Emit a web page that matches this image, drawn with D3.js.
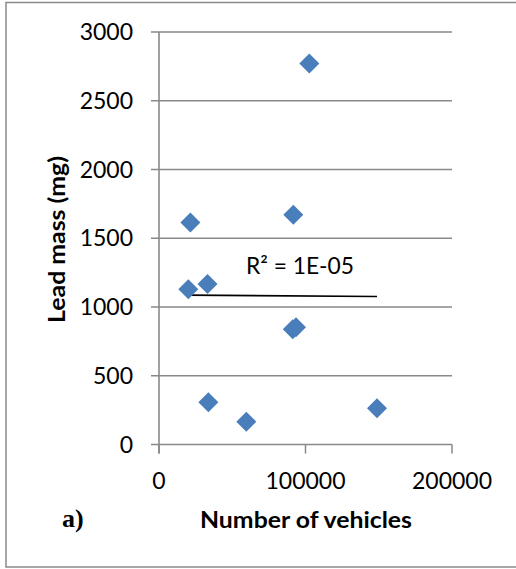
<!DOCTYPE html>
<html>
<head>
<meta charset="utf-8">
<script src="https://cdn.jsdelivr.net/npm/d3@7"></script>
<style>
html,body{margin:0;padding:0;background:#fff;}
svg{display:block;}
</style>
</head>
<body>
<svg id="chart" width="516" height="569"></svg>
<script>
// Data
const vehicles  = [102600, 21400, 91700, 20000, 33100, 91300, 93500, 33700, 59600, 148800];
const leadMass  = [2770,   1615,  1670,  1128,  1167,  838,   852,   308,   166,   264];
const trendX    = [20000, 148800];
const trendY    = [1086, 1076];
const xTicks    = [0, 100000, 200000];
const yTicks    = [0, 500, 1000, 1500, 2000, 2500, 3000];
const xTitle    = "Number of vehicles";
const yTitle    = "Lead mass (mg)";
const r2Label   = "R\u00B2 = 1E-05";
const panelLabel = "a)";

const svg = d3.select("#chart");
const gridColor = "#898989";
const markColor = "#4a7ebb";
const sans = "Lato, 'Open Sans', sans-serif";

// frame
svg.append("rect")
  .attr("x", 6).attr("y", 2.5).attr("width", 530).attr("height", 564.5)
  .attr("fill", "none").attr("stroke", "#8a8a8a").attr("stroke-width", 1.5);

const x = d3.scaleLinear().domain([0, 200000]).range([159, 452]);
const y = d3.scaleLinear().domain([0, 3000]).range([444.5, 31.9]);

// horizontal gridlines (with left tick stubs)
svg.append("g").selectAll("line").data(yTicks).join("line")
  .attr("x1", 151).attr("x2", x(200000))
  .attr("y1", d => y(d)).attr("y2", d => y(d))
  .attr("stroke", gridColor).attr("stroke-width", 1.5);

// y axis line
svg.append("line")
  .attr("x1", x(0)).attr("x2", x(0))
  .attr("y1", y(3000)).attr("y2", y(0) + 9)
  .attr("stroke", gridColor).attr("stroke-width", 1.6);

// x tick marks
svg.append("g").selectAll("line").data(xTicks).join("line")
  .attr("x1", d => x(d)).attr("x2", d => x(d))
  .attr("y1", y(0)).attr("y2", y(0) + 9)
  .attr("stroke", gridColor).attr("stroke-width", 1.5);

// y tick labels
svg.append("g").selectAll("text").data(yTicks).join("text")
  .attr("x", 133).attr("y", d => y(d)).attr("dy", "0.36em")
  .attr("text-anchor", "end")
  .attr("font-family", sans).attr("font-size", 23).attr("fill", "#000")
  .text(d => d);

// x tick labels
svg.append("g").selectAll("text").data(xTicks).join("text")
  .attr("x", d => x(d)).attr("y", 489)
  .attr("text-anchor", "middle")
  .attr("font-family", sans).attr("font-size", 23).attr("fill", "#000")
  .text(d => d);

// trend line
svg.append("line")
  .attr("x1", x(trendX[0])).attr("x2", x(trendX[1]))
  .attr("y1", y(trendY[0])).attr("y2", y(trendY[1]))
  .attr("stroke", "#000").attr("stroke-width", 1.6);

// diamonds
const pts = vehicles.map((v, i) => ({v, m: leadMass[i]}));
const sym = d3.symbol().type(d3.symbolSquare).size(200);
svg.append("g").selectAll("path").data(pts).join("path")
  .attr("d", sym)
  .attr("transform", d => `translate(${x(d.v)},${y(d.m)}) rotate(45)`)
  .attr("fill", markColor);

// R² label
svg.append("text")
  .attr("x", 246).attr("y", 274)
  .attr("font-family", sans).attr("font-size", 23).attr("fill", "#000")
  .attr("textLength", 108).attr("lengthAdjust", "spacingAndGlyphs")
  .text(r2Label);

// axis titles
svg.append("text")
  .attr("x", 306).attr("y", 528)
  .attr("text-anchor", "middle")
  .attr("font-family", sans).attr("font-weight", "bold").attr("font-size", 23).attr("fill", "#000")
  .attr("textLength", 212).attr("lengthAdjust", "spacingAndGlyphs")
  .text(xTitle);

svg.append("text")
  .attr("transform", "translate(65,239.5) rotate(-90)")
  .attr("text-anchor", "middle")
  .attr("font-family", sans).attr("font-weight", "bold").attr("font-size", 23).attr("fill", "#000")
  .attr("textLength", 167).attr("lengthAdjust", "spacingAndGlyphs")
  .text(yTitle);

// panel label
svg.append("text")
  .attr("x", 62).attr("y", 527)
  .attr("font-family", "'Liberation Serif', 'Times New Roman', serif")
  .attr("font-weight", "bold").attr("font-size", 26).attr("fill", "#000")
  .text(panelLabel);
</script>
</body>
</html>
